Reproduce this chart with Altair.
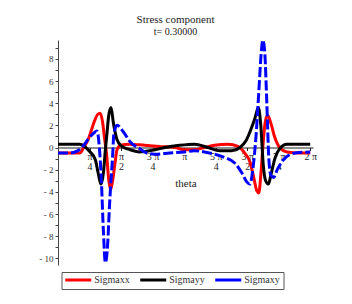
import altair as alt
import pandas as pd
import math

# theta (radians) and values
red_theta = [0.00, 0.41, 0.54, 0.64, 0.76, 0.89, 0.99, 1.05, 1.11, 1.16, 1.21, 1.26, 1.31, 1.36, 1.42, 1.47,
             1.56, 1.78, 2.16, 2.53, 2.91, 3.15, 3.40, 3.65, 3.90, 4.23, 4.48, 4.65, 4.78, 4.88, 4.95, 5.00,
             5.05, 5.10, 5.16, 5.22, 5.30, 5.40, 5.52, 5.70, 6.02, 6.28]
red_val = [-0.5, -0.5, -0.5, 0.0, 0.8, 2.2, 3.0, 3.1, 2.3, 0.8, -0.6, -2.8, -3.8, -3.0, -1.4, -0.2,
           0.2, 0.3, 0.2, 0.1, 0.0, -0.2, -0.2, 0.0, 0.2, 0.3, 0.1, -0.5, -1.3, -2.8, -3.9, -4.1,
           -2.5, 0.0, 2.3, 2.9, 2.2, 0.9, 0.0, -0.4, -0.5, -0.5]

black_theta = [0.00, 0.54, 0.66, 0.80, 0.93, 1.00, 1.07, 1.13, 1.18, 1.22, 1.26, 1.32, 1.38, 1.47, 1.59,
               1.80, 2.03, 2.41, 2.66, 3.03, 3.40, 3.73, 4.03, 4.33, 4.53, 4.68, 4.80, 4.90, 4.99, 5.05,
               5.11, 5.17, 5.24, 5.30, 5.40, 5.52, 5.70, 6.28]
black_val = [0.3, 0.3, 0.1, -0.4, -1.1, -2.3, -3.3, -2.3, -0.2, 1.3, 2.8, 3.6, 2.2, 0.7, 0.1,
             -0.2, -0.4, -0.2, 0.0, 0.2, 0.3, 0.0, -0.3, -0.3, 0.0, 0.6, 1.6, 2.6, 3.6, 2.0,
             -1.5, -3.0, -3.3, -2.5, -1.0, -0.1, 0.3, 0.3]

blue_theta = [0.00, 0.29, 0.49, 0.64, 0.76, 0.89, 0.97, 1.03, 1.08, 1.13, 1.18, 1.24, 1.28, 1.33, 1.36,
              1.39, 1.47, 1.63, 1.80, 2.03, 2.21, 2.41, 2.78, 3.15, 3.40, 3.65, 3.90, 4.15, 4.40, 4.58,
              4.70, 4.78, 4.85, 4.93, 5.00, 5.06, 5.10, 5.15, 5.20, 5.25, 5.30, 5.37, 5.46, 5.64, 5.91, 6.28]
blue_val = [-0.5, -0.5, -0.3, 0.2, 0.8, 1.3, 1.5, 0.0, -3.0, -7.5, -10.4, -8.5, -5.4, -2.4, -0.8,
            1.2, 2.0, 1.4, 0.5, -0.1, -0.5, -0.6, -0.5, -0.4, -0.3, -0.4, -0.6, -0.9, -1.4, -2.3,
            -3.1, -3.3, -2.0, 1.0, 5.0, 8.5, 9.7, 8.5, 4.0, -1.0, -2.5, -2.7, -2.0, -1.0, -0.5, -0.4]

series_names = ["Sigmaxx", "Sigmayy", "Sigmaxy"]
series_colors = ["#ff0000", "#000000", "#0000ff"]

x_tick_labels = ["", "π|4", "π|2", "3 π|4", "π", "5 π|4", "3 π|2", "7 π|4", "2 π"]

rows = []
for name, th, vals in zip(series_names, [red_theta, black_theta, blue_theta], [red_val, black_val, blue_val]):
    for i, (t, v) in enumerate(zip(th, vals)):
        rows.append({"series": name, "theta": t, "value": v, "order": i})
df = pd.DataFrame(rows)

xvals = [k * math.pi / 4 for k in range(1, 9)]
label_arr = "[" + ",".join("'" + s + "'" for s in x_tick_labels) + "]"

FONT = "Liberation Serif"

x_enc = alt.X("theta:Q",
              scale=alt.Scale(domain=[0, 6.35], nice=False, zero=False),
              axis=alt.Axis(values=xvals, offset=-117.5, grid=False, title="theta",
                            labelExpr="split(" + label_arr + "[round(datum.value*4/PI)], '|')",
                            labelFont=FONT, labelFontSize=10, labelColor="#222",
                            labelLineHeight=10, labelPadding=1, labelAngle=0,
                            tickSize=3, tickColor="#222", domainColor="#222", domainWidth=1,
                            titleFont=FONT, titleFontSize=11, titleFontWeight="normal",
                            titleColor="#222", titlePadding=6, labelFlush=False, labelOverlap=False))
y_enc = alt.Y("value:Q",
              scale=alt.Scale(domain=[-10.6, 9.7], nice=False, zero=False),
              axis=alt.Axis(values=list(range(-10, 10)), grid=False, title=None,
                            labelExpr="datum.value % 2 == 0 ? (datum.value < 0 ? '- ' + abs(datum.value) : '' + datum.value) : ''",
                            labelFont=FONT, labelFontSize=9, labelColor="#333",
                            tickSize=3, tickColor="#444", domainColor="#444", labelPadding=2,
                            labelOverlap=False))
c_enc = alt.Color("series:N",
                  scale=alt.Scale(domain=series_names, range=series_colors),
                  sort=series_names,
                  legend=alt.Legend(orient="none", legendX=3.5, legendY=232, direction="horizontal",
                                    columns=3, title=None, strokeColor="#555", fillColor="white",
                                    padding=3, symbolType="M-4,0H4", symbolSize=42.25,
                                    symbolOffset=8.75, symbolStrokeWidth=3, symbolDash=[1, 0],
                                    labelFont=FONT, labelFontSize=10, labelColor="#333",
                                    labelOffset=11, columnPadding=3, rowPadding=0))

base = alt.Chart(df).encode(x=x_enc, y=y_enc, color=c_enc, order="order:Q")

solid = base.transform_filter(alt.datum.series != "Sigmaxy").mark_line(strokeWidth=3, interpolate="monotone")
dashed = base.transform_filter(alt.datum.series == "Sigmaxy").mark_line(
    strokeWidth=3, interpolate="monotone", strokeDash=[10, 3])

chart = alt.layer(solid, dashed).properties(
    width=255, height=225,
    title=alt.TitleParams(text="Stress component", subtitle="t= 0.30000",
                          font=FONT, fontSize=11, fontWeight="normal", color="#222",
                          subtitleFont=FONT, subtitleFontSize=10, subtitleColor="#222",
                          subtitlePadding=2, offset=-3, anchor="middle", dx=-10),
    autosize=alt.AutoSizeParams(type="none"),
    padding={"left": 50, "top": 32, "right": 25, "bottom": 30},
).configure_view(stroke=None)

chart.save("out.html", embed_options={"renderer": "svg", "actions": False})
